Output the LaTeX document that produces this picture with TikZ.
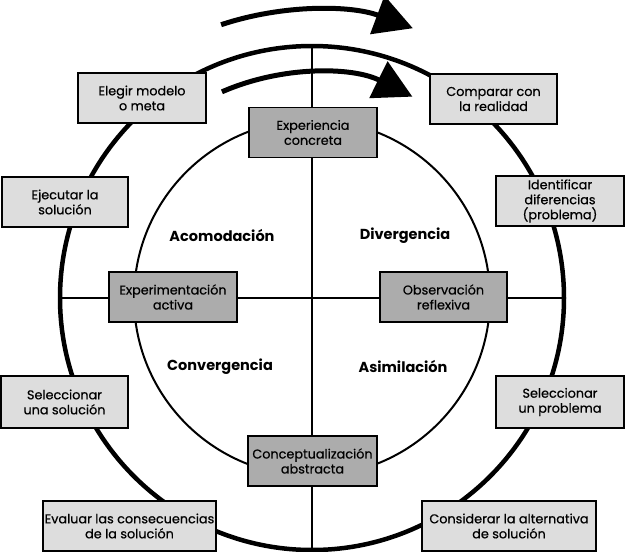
\documentclass[tikz,border=0pt]{standalone}
\usepackage{fontspec}
\setmainfont{Poppins}
\newfontfamily\boxfont[FakeBold=0.6]{Poppins}
\usetikzlibrary{arrows.meta,calc}
\definecolor{lightgr}{RGB}{221,221,221}
\definecolor{darkgr}{RGB}{172,172,172}
\begin{document}
\begin{tikzpicture}[x=1pt,y=-1pt,
  box/.style={draw=black, line width=1.5pt, minimum height=50pt, align=center, inner sep=0pt, font=\boxfont\fontsize{12.8}{15}\selectfont},
  lightbox/.style={box, fill=lightgr},
  darkbox/.style={box, fill=darkgr},
  quad/.style={font=\fontsize{14.5}{16}\selectfont\bfseries},
  ring/.style={line width=4.5pt},
  innerring/.style={line width=2pt},
  axis/.style={line width=2pt},
  cyclearrow/.style={line width=5pt, -{Triangle[length=38pt,width=40pt]}}]
\useasboundingbox (0,0) rectangle (625,552);
\coordinate (C) at (312,298);
\draw[ring] (C) circle[radius=252];
\draw[innerring] (C) circle[radius=178];
\coordinate (T) at (312,46);
\coordinate (B) at (312,550);
\coordinate (L) at (60,298);
\coordinate (R) at (564,298);
\draw[axis] (T) -- (B);
\draw[axis] (L) -- (R);
% cycle arrows
\coordinate (A1s) at ($(C)+(-108.4:288)$);
\coordinate (A2s) at ($(C)+(-113.6:225)$);
\draw[cyclearrow] (A1s) arc[start angle=-108.4, end angle=-69.5, radius=288];
\draw[cyclearrow] (A2s) arc[start angle=-113.6, end angle=-63.5, radius=225];
% inner stage boxes
\node[darkbox, minimum width=128pt] (exp) at (313,132.5) {Experiencia\\concreta};
\node[darkbox, minimum width=128pt] (act) at (173,297) {Experimentación\\activa};
\node[darkbox, minimum width=127pt] (obs) at (443.5,297) {Observación\\reflexiva};
\node[darkbox, minimum width=129pt] (con) at (312.5,461) {Conceptualización\\abstracta};
% outer boxes
\node[lightbox, minimum width=128pt] (eleg) at (142,98) {Elegir modelo\\o meta};
\node[lightbox, minimum width=126pt] (ejec) at (65,202) {Ejecutar la\\solución};
\node[lightbox, minimum width=127pt] (comp) at (493.5,99) {Comparar con\\la realidad};
\node[lightbox, minimum width=128pt] (iden) at (560,201) {Identificar\\diferencias\\(problema)};
\node[lightbox, minimum width=127pt, minimum height=52pt] (selsol) at (64.5,402) {Seleccionar\\una solución};
\node[lightbox, minimum width=173pt] (eval) at (129.5,526) {Evaluar las consecuencias\\de la solución};
\node[lightbox, minimum width=128pt, minimum height=52pt] (selprob) at (560,402) {Seleccionar\\un problema};
\node[lightbox, minimum width=174pt] (cons) at (509,526) {Considerar la alternativa\\de solución};
% quadrant labels
\node[quad] (acom) at (222,236) {Acomodación};
\node[quad] (div) at (405,236) {Divergencia};
\node[quad] (conv) at (220,367) {Convergencia};
\node[quad] (asim) at (403,367) {Asimilación};
\end{tikzpicture}
\end{document}
